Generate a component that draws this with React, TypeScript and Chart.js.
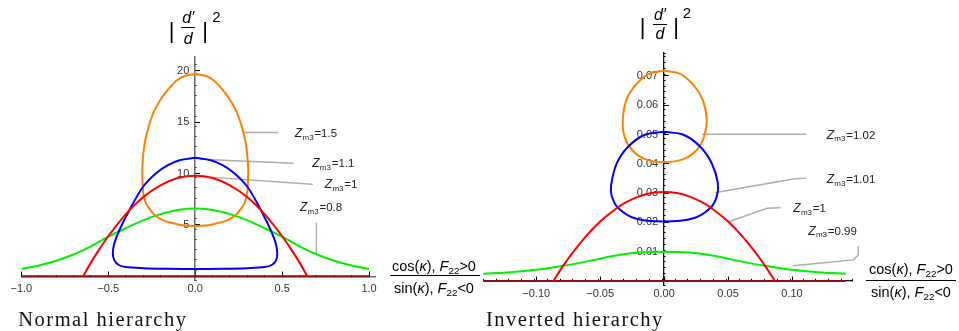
import React, { useEffect, useRef } from 'react';
import { Chart, registerables } from 'chart.js';

Chart.register(...registerables);

type Pt = [number, number];
type Note = { value: string; at: Pt; path: Pt[] };

// ---------------- Normal hierarchy (left panel) ----------------
const nhOrange15: Pt[] = [
  [0, 19.7], [0.062, 19.5], [0.112, 19.0], [0.165, 18.0], [0.207, 17.0], [0.238, 16.0], [0.26, 15.0],
  [0.277, 14.0], [0.29, 13.0], [0.298, 12.0], [0.303, 11.0], [0.305, 10.0], [0.303, 9.0], [0.298, 8.0],
  [0.29, 7.43], [0.28, 7.0], [0.26, 6.5], [0.233, 5.97], [0.19, 5.5], [0.125, 5.16], [0.075, 4.98], [0, 4.9],
  [-0.075, 4.98], [-0.125, 5.16], [-0.19, 5.5], [-0.233, 5.97], [-0.26, 6.5], [-0.28, 7.0], [-0.29, 7.43],
  [-0.298, 8.0], [-0.303, 9.0], [-0.305, 10.0], [-0.303, 11.0], [-0.298, 12.0], [-0.29, 13.0], [-0.277, 14.0],
  [-0.26, 15.0], [-0.238, 16.0], [-0.207, 17.0], [-0.165, 18.0], [-0.112, 19.0], [-0.062, 19.5], [0, 19.7],
];
const nhBlue11: Pt[] = [
  [0, 11.55], [0.09, 11.3], [0.16, 10.8], [0.225, 10.03], [0.3, 8.72], [0.377, 6.46], [0.434, 4.51],
  [0.463, 3.21], [0.472, 2.24], [0.465, 1.55], [0.44, 1.1], [0.4, 0.9], [0.3, 0.79], [0.15, 0.73],
  [0, 0.71], [-0.15, 0.73], [-0.3, 0.79], [-0.4, 0.9], [-0.44, 1.1], [-0.465, 1.55], [-0.474, 2.24],
  [-0.465, 3.21], [-0.436, 4.51], [-0.378, 6.46], [-0.3, 8.72], [-0.225, 10.03], [-0.16, 10.8],
  [-0.09, 11.3], [0, 11.55],
];
const nhRed1: Pt[] = [
  [-0.645, 0], [-0.6, 1.33], [-0.55, 2.67], [-0.5, 3.9], [-0.4, 6.03], [-0.3, 7.7], [-0.2, 8.86],
  [-0.1, 9.57], [0, 9.8], [0.1, 9.57], [0.2, 8.86], [0.3, 7.7], [0.4, 6.03], [0.5, 3.9], [0.55, 2.67],
  [0.6, 1.33], [0.645, 0],
];
const nhRedZero: Pt[] = [[-1, 0], [1, 0]];
const nhGreen08: Pt[] = [
  [-1, 0.72], [-0.9, 1.06], [-0.8, 1.52], [-0.7, 2.12], [-0.6, 2.92], [-0.5, 3.86], [-0.4, 4.68],
  [-0.3, 5.45], [-0.2, 6.05], [-0.1, 6.46], [0, 6.6], [0.1, 6.46], [0.2, 6.05], [0.3, 5.45],
  [0.4, 4.68], [0.5, 3.86], [0.6, 2.92], [0.7, 2.12], [0.8, 1.52], [0.9, 1.06], [1, 0.72],
];
const nhXTickValues = [-1, -0.5, 0, 0.5, 1];
const nhXTickLabels = ['\u22121.0', '\u22120.5', '0.0', '0.5', '1.0'];
const nhYTickValues = [5, 10, 15, 20];
const nhYTickLabels = ['5', '10', '15', '20'];
const nhNotes: Note[] = [
  { value: '1.5', at: [0.573, 13.94], path: [[0.277, 14.0], [0.473, 14.0]] },
  { value: '1.1', at: [0.673, 11.0], path: [[0.034, 11.39], [0.562, 11.0]] },
  { value: '1', at: [0.745, 8.98], path: [[0.034, 9.7], [0.673, 8.96]] },
  { value: '0.8', at: [0.602, 6.72], path: [[0.697, 5.16], [0.697, 2.14]] },
];

// ---------------- Inverted hierarchy (right panel) ----------------
const ihOrange102: Pt[] = [
  [0, 0.0718], [0.0125, 0.0707], [0.0229, 0.0669], [0.0302, 0.0618], [0.0333, 0.055], [0.0313, 0.0493],
  [0.0255, 0.0447], [0.0151, 0.0416], [0, 0.0406], [-0.0151, 0.0416], [-0.025, 0.0447], [-0.031, 0.0493],
  [-0.0323, 0.055], [-0.0295, 0.0618], [-0.0222, 0.0669], [-0.012, 0.0707], [0, 0.0718],
];
const ihBlue101: Pt[] = [
  [0, 0.0509], [0.0151, 0.0499], [0.0281, 0.0459], [0.0372, 0.0402], [0.042, 0.0334], [0.0411, 0.0288],
  [0.0359, 0.0248], [0.0229, 0.0214], [0, 0.0203], [-0.0229, 0.0214], [-0.0359, 0.0249], [-0.041, 0.029],
  [-0.0414, 0.0328], [-0.037, 0.0402], [-0.028, 0.0459], [-0.015, 0.0499], [0, 0.0509],
];
const ihRed1: Pt[] = [
  [-0.0866, 0], [-0.08, 0.0045], [-0.07, 0.0105], [-0.06, 0.0158], [-0.05, 0.0203], [-0.04, 0.0239],
  [-0.03, 0.0268], [-0.02, 0.0288], [-0.01, 0.03], [0, 0.0304], [0.01, 0.03], [0.02, 0.0288],
  [0.03, 0.0268], [0.04, 0.0239], [0.05, 0.0203], [0.06, 0.0158], [0.07, 0.0105], [0.08, 0.0045],
  [0.0866, 0],
];
const ihRedZero: Pt[] = [[-0.1414, 0], [0.142, 0]];
const ihGreen099: Pt[] = [
  [-0.1414, 0.0025], [-0.12, 0.003], [-0.1, 0.0038], [-0.08, 0.0051], [-0.06, 0.0067], [-0.04, 0.0085],
  [-0.02, 0.0097], [0, 0.01], [0.02, 0.0097], [0.04, 0.0085], [0.06, 0.0067], [0.08, 0.0051],
  [0.1, 0.0038], [0.12, 0.003], [0.142, 0.0025],
];
const ihXTickValues = [-0.1, -0.05, 0, 0.05, 0.1];
const ihXTickLabels = ['\u22120.10', '\u22120.05', '0.00', '0.05', '0.10'];
const ihYTickValues = [0.01, 0.02, 0.03, 0.04, 0.05, 0.06, 0.07];
const ihYTickLabels = ['0.01', '0.02', '0.03', '0.04', '0.05', '0.06', '0.07'];
const ihNotes: Note[] = [
  { value: '1.02', at: [0.1271, 0.0499], path: [[0.0302, 0.0501], [0.1109, 0.0501]] },
  { value: '1.01', at: [0.1271, 0.0347], path: [[0.0406, 0.0302], [0.101, 0.0348], [0.1109, 0.0351]] },
  { value: '1', at: [0.101, 0.0248], path: [[0.051, 0.0203], [0.0802, 0.0248], [0.0906, 0.025]] },
  { value: '0.99', at: [0.1127, 0.0171], path: [[0.101, 0.0052], [0.1479, 0.0072], [0.1518, 0.0089], [0.1518, 0.0117]] },
];

// ---------------- styling / view ----------------
const ORANGE = '#ff8000';
const BLUE = '#0000ff';
const RED = '#ff0000';
const GREEN = '#00f000';
const MAROON = '#8c1010';
const SANS = '"Liberation Sans", Arial, sans-serif';

type Series = { pts: Pt[]; color: string; loop: boolean };
type Spec = {
  series: Series[];
  xTickValues: number[]; xTickLabels: string[];
  yTickValues: number[]; yTickLabels: string[];
  notes: Note[];
  view: {
    xMin: number; xMax: number; yMin: number; yMax: number;
    xMinorStep: number; yMinorStep: number; yLabelAt: number;
    axisColor: string; axisWidth: number;
    pad: { left: number; right: number; top: number; bottom: number };
  };
};

const NH: Spec = {
  series: [
    { pts: nhRed1, color: RED, loop: false },
    { pts: nhBlue11, color: BLUE, loop: true },
    { pts: nhOrange15, color: ORANGE, loop: true },
    { pts: nhGreen08, color: GREEN, loop: false },
    { pts: nhRedZero, color: MAROON, loop: false },
  ],
  xTickValues: nhXTickValues, xTickLabels: nhXTickLabels,
  yTickValues: nhYTickValues, yTickLabels: nhYTickLabels,
  notes: nhNotes,
  view: {
    xMin: -1, xMax: 1.034, yMin: -0.4, yMax: 21.35, xMinorStep: 0.1, yMinorStep: 1, yLabelAt: -0.034,
    axisColor: '#6b6b6b', axisWidth: 1.5,
    pad: { left: 18.3, right: 105, top: 57, bottom: 50.6 },
  },
};

const IH: Spec = {
  series: [
    { pts: ihRed1, color: RED, loop: false },
    { pts: ihBlue101, color: BLUE, loop: true },
    { pts: ihOrange102, color: ORANGE, loop: true },
    { pts: ihGreen099, color: GREEN, loop: false },
    { pts: ihRedZero, color: MAROON, loop: false },
  ],
  xTickValues: ihXTickValues, xTickLabels: ihXTickLabels,
  yTickValues: ihYTickValues, yTickLabels: ihYTickLabels,
  notes: ihNotes,
  view: {
    xMin: -0.1414, xMax: 0.1469, yMin: -0.0015, yMax: 0.0778, xMinorStep: 0.01, yMinorStep: 0.002, yLabelAt: -0.0047,
    axisColor: '#111', axisWidth: 1.3,
    pad: { left: 3.3, right: 107, top: 53, bottom: 45.6 },
  },
};

function drawZ(ctx: CanvasRenderingContext2D, x: number, y: number, value: string) {
  const base = y + 4;
  ctx.fillStyle = '#222';
  ctx.textBaseline = 'alphabetic';
  ctx.textAlign = 'left';
  ctx.font = `italic 12px ${SANS}`;
  ctx.fillText('Z', x, base);
  x += ctx.measureText('Z').width + 0.3;
  ctx.font = `8px ${SANS}`;
  ctx.fillText('m3', x, base + 2.5);
  x += ctx.measureText('m3').width + 0.8;
  ctx.font = `11.5px ${SANS}`;
  ctx.fillText('=' + value, x, base);
}

function notesPlugin(notes: Note[]) {
  return {
    id: 'zm3notes',
    beforeDatasetsDraw(chart: any) {
      const { ctx } = chart;
      const sx = chart.scales.x;
      const sy = chart.scales.y;
      ctx.save();
      ctx.strokeStyle = '#ababab';
      ctx.lineWidth = 1.4;
      ctx.lineJoin = 'round';
      ctx.lineCap = 'round';
      for (const n of notes) {
        ctx.beginPath();
        n.path.forEach(([px, py], i) => {
          const X = sx.getPixelForValue(px);
          const Y = sy.getPixelForValue(py);
          if (i === 0) ctx.moveTo(X, Y); else ctx.lineTo(X, Y);
        });
        ctx.stroke();
        drawZ(ctx, sx.getPixelForValue(n.at[0]), sy.getPixelForValue(n.at[1]), n.value);
      }
      ctx.restore();
    },
  };
}

function buildConfig(spec: Spec): any {
  const v = spec.view;
  const tickFont = { family: SANS, size: 11 };
  const datasets = spec.series.map((s) => ({
    data: s.pts.map(([x, y]) => ({ x, y })),
    borderColor: s.color,
    borderWidth: 2,
    showLine: true,
    pointRadius: 0,
    pointHoverRadius: 0,
    fill: false,
    tension: s.loop ? 0.35 : 0.4,
    cubicInterpolationMode: s.loop ? 'default' : 'monotone',
  }));
  const xr = { type: 'linear', axis: 'x', min: v.xMin, max: v.xMax, bounds: 'data', position: { y: 0 } };
  const yr = { type: 'linear', axis: 'y', min: v.yMin, max: v.yMax, bounds: 'data' };
  return {
    type: 'scatter',
    data: { datasets },
    options: {
      animation: false,
      responsive: false,
      devicePixelRatio: 1,
      events: [],
      layout: { padding: v.pad },
      plugins: { legend: { display: false }, tooltip: { enabled: false } },
      scales: {
        x: {
          ...xr,
          ticks: { stepSize: v.xMinorStep, includeBounds: false, autoSkip: false, callback: () => '' },
          grid: { drawOnChartArea: false, drawTicks: true, tickLength: -2.5, tickColor: '#000', tickWidth: 1 },
          border: { display: true, color: v.axisColor, width: v.axisWidth },
        },
        xMaj: {
          ...xr,
          afterBuildTicks: (s: any) => { s.ticks = spec.xTickValues.map((value) => ({ value })); },
          ticks: {
            autoSkip: false, padding: 10.5, font: tickFont, color: '#333', maxRotation: 0,
            callback: (_val: any, i: number) => spec.xTickLabels[i],
          },
          grid: { drawOnChartArea: false, drawTicks: true, tickLength: -4.5, tickColor: '#000', tickWidth: 1 },
          border: { display: false },
        },
        y: {
          ...yr,
          position: { x: 0 },
          ticks: { stepSize: v.yMinorStep, includeBounds: false, autoSkip: false, callback: () => '' },
          grid: { drawOnChartArea: false, drawTicks: true, tickLength: -2.5, tickColor: '#000', tickWidth: 1 },
          border: { display: true, color: v.axisColor, width: v.axisWidth },
        },
        yMaj: {
          ...yr,
          position: { x: 0 },
          afterBuildTicks: (s: any) => { s.ticks = spec.yTickValues.map((value) => ({ value })); },
          ticks: { autoSkip: false, callback: () => '' },
          grid: { drawOnChartArea: false, drawTicks: true, tickLength: -5, tickColor: '#000', tickWidth: 1 },
          border: { display: false },
        },
        yLab: {
          ...yr,
          position: { x: v.yLabelAt },
          afterBuildTicks: (s: any) => { s.ticks = spec.yTickValues.map((value) => ({ value })); },
          ticks: {
            autoSkip: false, font: tickFont, color: '#333',
            callback: (_val: any, i: number) => spec.yTickLabels[i],
          },
          grid: { display: false },
          border: { display: false },
        },
      },
    },
    plugins: [notesPlugin(spec.notes)],
  };
}

function Panel({ spec, left, width }: { spec: Spec; left: number; width: number }) {
  const ref = useRef<HTMLCanvasElement>(null);
  useEffect(() => {
    const chart = new Chart(ref.current as HTMLCanvasElement, buildConfig(spec));
    return () => chart.destroy();
  }, [spec]);
  return (
    <canvas
      ref={ref}
      width={width}
      height={331}
      style={{ position: 'absolute', left, top: 0, width, height: 331, display: 'block' }}
    />
  );
}

function C({ x, y, size, italic, children }: { x: number; y: number; size: number; italic?: boolean; children: React.ReactNode }) {
  return (
    <div
      style={{
        position: 'absolute', left: x, top: y, transform: 'translate(-50%, -50%)',
        fontSize: size, fontStyle: italic ? 'italic' : 'normal', fontFamily: SANS,
        lineHeight: 1, whiteSpace: 'nowrap', color: '#000',
      }}
    >
      {children}
    </div>
  );
}

function Bar({ x, y, w }: { x: number; y: number; w: number }) {
  return <div style={{ position: 'absolute', left: x, top: y, width: w, height: 1, background: '#000' }} />;
}

const subStyle: React.CSSProperties = { fontSize: '0.68em', verticalAlign: '-0.3em', lineHeight: 0 };

function KappaLabel({ cx, yNum, yBar, yDen, x0, w }: { cx: number; yNum: number; yBar: number; yDen: number; x0: number; w: number }) {
  return (
    <>
      <C x={cx} y={yNum} size={14.5}>
        cos(<i>κ</i>), <i>F</i><span style={subStyle}>22</span>&gt;0
      </C>
      <Bar x={x0} y={yBar} w={w} />
      <C x={cx} y={yDen} size={14.5}>
        sin(<i>κ</i>), <i>F</i><span style={subStyle}>22</span>&lt;0
      </C>
    </>
  );
}

function DTitle({ xl, xc, xr, yBars, yNum, yBar, yDen, x2, y2 }: any) {
  return (
    <>
      <C x={xl} y={yBars} size={22}>|</C>
      <C x={xc} y={yNum} size={16} italic>d′</C>
      <Bar x={xc - 7} y={yBar} w={14} />
      <C x={xc} y={yDen} size={16} italic>d</C>
      <C x={xr} y={yBars} size={22}>|</C>
      <C x={x2} y={y2} size={15}>2</C>
    </>
  );
}

const titleStyle: React.CSSProperties = {
  position: 'absolute', top: 308.8, fontFamily: '"Liberation Serif", "Times New Roman", serif',
  fontSize: 20.5, letterSpacing: 1.5, lineHeight: '20.5px', whiteSpace: 'nowrap', color: '#111',
};

export default function App() {
  return (
    <div style={{ position: 'fixed', left: 0, top: 0, width: 959, height: 331, background: '#fff', overflow: 'hidden' }}>
      <Panel spec={NH} left={0} width={480} />
      <Panel spec={IH} left={480} width={479} />

      <DTitle xl={171.7} xc={188.3} xr={205} yBars={31} yNum={18} yBar={27} yDen={39} x2={216.5} y2={16} />
      <DTitle xl={642.7} xc={660} xr={676} yBars={26.5} yNum={15.3} yBar={24} yDen={34} x2={687} y2={12} />

      <KappaLabel cx={434} yNum={266} yBar={275} yDen={287.5} x0={390} w={90} />
      <KappaLabel cx={911} yNum={268.7} yBar={280} yDen={291.5} x0={866} w={90} />

      <div style={{ ...titleStyle, left: 18.3 }}>Normal hierarchy</div>
      <div style={{ ...titleStyle, left: 486 }}>Inverted hierarchy</div>
    </div>
  );
}
